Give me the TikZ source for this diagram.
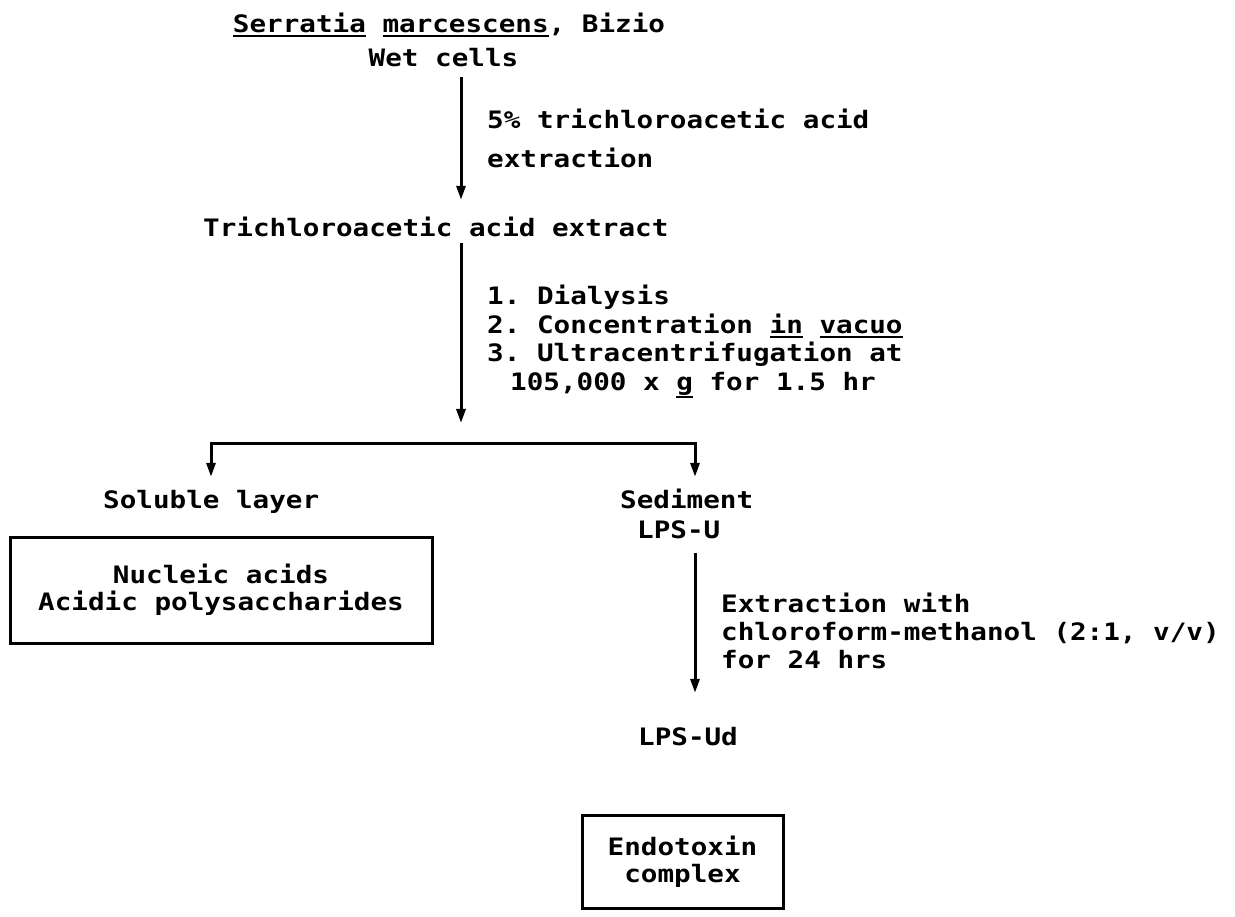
\documentclass[tikz,border=0pt]{standalone}
\usepackage{fontspec}
\newfontfamily\tw[FakeStretch=1.15]{DejaVu Sans Mono}
\usetikzlibrary{arrows.meta}
\newcommand\myul[2][-4.5pt]{\setbox0\hbox{#2}\rlap{\rule[#1]{\wd0}{2.2pt}}\box0\relax}
\frenchspacing
\begin{document}
\begin{tikzpicture}[x=1pt,y=-1pt,
  tfont/.style={font=\tw\bfseries\fontsize{24}{27}\selectfont},
  txt/.style={tfont, inner sep=0pt, text height=18pt, text depth=5pt, anchor=base west},
  ctxt/.style={txt, anchor=base},
  conn/.style={line width=3pt},
  arr/.style={conn, -{Triangle[width=9pt,length=14pt]}},
  boxed/.style={draw, line width=3pt, tfont, align=center, inner sep=0pt}
]
\useasboundingbox (0,0) rectangle (1235,917);

% top
\node[ctxt] (ser) at (449,33) {\myul{Serratia} \myul{marcescens}, Bizio};
\node[ctxt] (wet) at (443.5,67) {Wet cells};
\node[txt] (lab1a) at (487,129) {5\% trichloroacetic acid};
\node[txt] (lab1b) at (487,168) {extraction};
\node[txt] (trich) at (203,237) {Trichloroacetic acid extract};

\coordinate (x1) at (461,0);
\draw[arr, shorten <=5pt, shorten >=19pt] (wet.south -| x1) -- (trich.north -| x1);

% step 2
\node[txt] (d1) at (487,305) {1. Dialysis};
\node[txt] (d2) at (487,333.5) {2. Concentration \myul{in} \myul{vacuo}};
\node[txt] (d3) at (487,362) {3. Ultracentrifugation at};
\node[txt] (d4) at (510,390.5) {105,000 x \myul[-8pt]{g} for 1.5 hr};

\coordinate (split) at (461,443);
\coordinate (bl) at (211,443);
\coordinate (br) at (695,443);
\draw[arr, shorten <=1pt, shorten >=20pt] (trich.south -| split) -- (split);
\draw[conn, line cap=rect] (bl) -- (br);

\node[txt] (sol) at (103,508) {Soluble layer};
\node[txt] (sed) at (620,508) {Sediment};
\node[txt] (lpsu) at (637,538) {LPS-U};
\draw[arr, shorten >=13pt] (bl) -- (sol.north -| bl);
\draw[arr, shorten >=13pt] (br) -- (sed.north -| br);

\node[boxed, minimum width=422pt, minimum height=106pt] (box1) at (221,590)
  {Nucleic acids\\Acidic polysaccharides};

% step 3
\node[txt] (ex1) at (721,612) {Extraction with};
\node[txt] (ex2) at (721,640) {chloroform-methanol (2:1, v/v)};
\node[txt] (ex3) at (721,668) {for 24 hrs};
\node[ctxt] (lpsud) at (688,745) {LPS-Ud};
\coordinate (x3) at (695,0);
\draw[arr, shorten <=10pt, shorten >=34pt] (lpsu.south -| x3) -- (lpsud.north -| x3);

\node[boxed, minimum width=201pt, minimum height=93pt] (box2) at (682.5,861.5)
  {Endotoxin\\complex};
\end{tikzpicture}
\end{document}
